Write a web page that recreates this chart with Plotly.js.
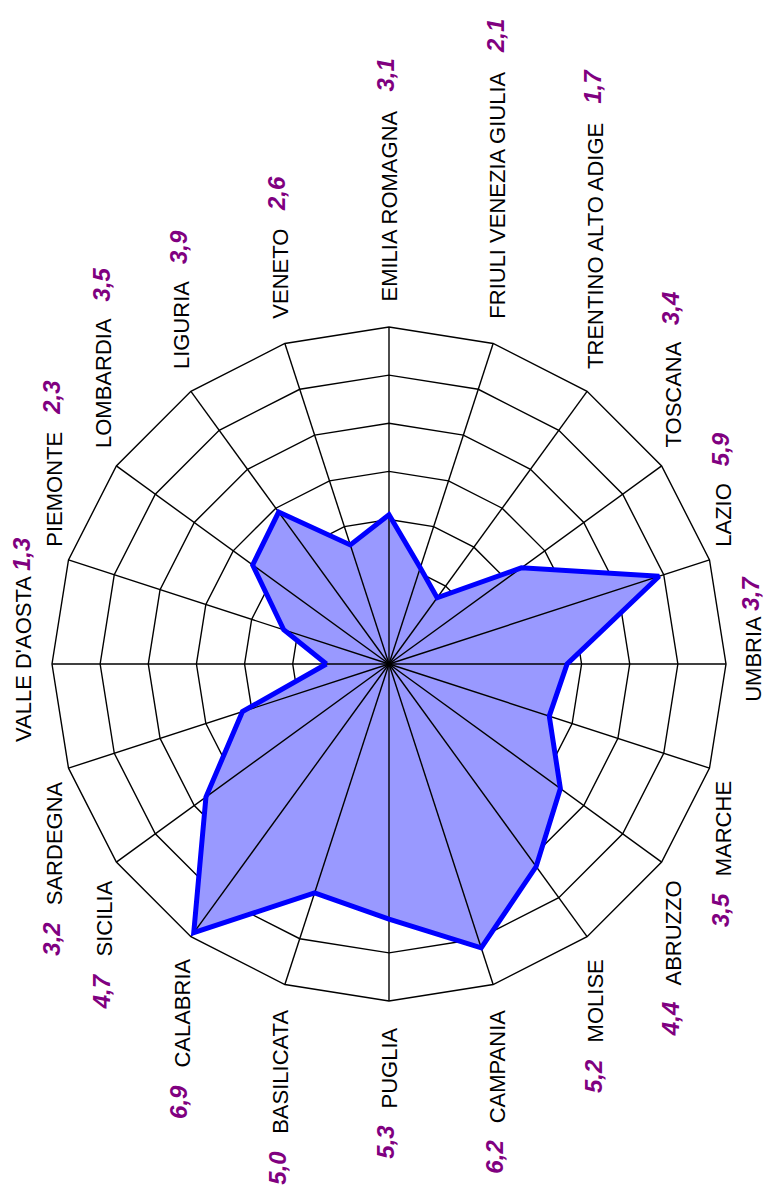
<!DOCTYPE html>
<html>
<head>
<meta charset="utf-8">
<script src="https://cdn.plot.ly/plotly-3.0.1.min.js"></script>
<style>
html,body{margin:0;padding:0;background:#ffffff;}
#chart{width:769px;height:1204px;}
</style>
</head>
<body>
<div id="chart"></div>
<script>
// ---------------- data ----------------
const categories = [
  "VALLE D'AOSTA", "PIEMONTE", "LOMBARDIA", "LIGURIA", "VENETO",
  "EMILIA ROMAGNA", "FRIULI VENEZIA GIULIA", "TRENTINO ALTO ADIGE", "TOSCANA", "LAZIO",
  "UMBRIA", "MARCHE", "ABRUZZO", "MOLISE", "CAMPANIA",
  "PUGLIA", "BASILICATA", "CALABRIA", "SICILIA", "SARDEGNA"
];
const values = [
  1.3, 2.3, 3.5, 3.9, 2.6,
  3.1, 2.1, 1.7, 3.4, 5.9,
  3.7, 3.5, 4.4, 5.2, 6.2,
  5.3, 5.0, 6.9, 4.7, 3.2
];
const valueLabels = [
  "1,3", "2,3", "3,5", "3,9", "2,6",
  "3,1", "2,1", "1,7", "3,4", "5,9",
  "3,7", "3,5", "4,4", "5,2", "6,2",
  "5,3", "5,0", "6,9", "4,7", "3,2"
];
const radialMax = 7;

// ---------------- layout geometry ----------------
const W = 769, H = 1204;
const CX = 389, CY = 664, R = 337;
const NAME_SIZE = 22, VALUE_SIZE = 24;
const FAMILY = '"Liberation Sans", Arial, Helvetica, sans-serif';

const cv = document.createElement('canvas');
const ctx = cv.getContext('2d');
function textLen(t, size, weight, style) {
  ctx.font = (style || 'normal') + ' ' + (weight || 'normal') + ' ' + size + 'px "Liberation Sans", Arial, sans-serif';
  return ctx.measureText(t).width;
}

const closedCats = categories.concat([categories[0]]);
const closedVals = values.concat([values[0]]);

const spokeR = [], spokeT = [];
categories.forEach(function (c) { spokeR.push(0, radialMax, null); spokeT.push(c, c, c); });

const traces = [
  { type: 'scatterpolar', r: closedVals, theta: closedCats, mode: 'lines', fill: 'toself',
    fillcolor: '#9999ff', line: { width: 0, color: '#9999ff' }, hoverinfo: 'skip' },
  { type: 'scatterpolar', r: spokeR, theta: spokeT, mode: 'lines', connectgaps: false,
    line: { color: '#000000', width: 1.4 }, hoverinfo: 'skip' },
  { type: 'scatterpolar', r: closedVals, theta: closedCats, mode: 'lines',
    line: { color: '#0000ff', width: 5 } },
  { type: 'scatterpolar', r: [0], theta: [categories[0]], mode: 'markers',
    marker: { color: '#000000', size: 13 }, hoverinfo: 'skip' }
];

const annotations = [];
categories.forEach(function (cat, i) {
  const th = (180 - 18 * i) * Math.PI / 180;
  const c = Math.cos(th), s = Math.sin(th);
  const vx = CX + R * c, vy = CY - R * s;
  const L = textLen(cat, NAME_SIZE);
  let nx, nNear, nFar, vNear, up;
  if (Math.abs(s) < 0.1) {
    nx = vx + 28 * Math.sign(c);
    const ncy = vy - 4;
    up = true;
    nNear = ncy + L / 2;
    nFar = ncy - L / 2;
    vNear = nFar - 5;
  } else {
    nx = vx + 15 * c;
    up = s > 0;
    const g = 6 + 19 * Math.abs(s);
    nNear = up ? vy - g : vy + g;
    nFar = up ? nNear - L : nNear + L;
    vNear = up ? nFar - 17 : nFar + 17;
  }
  annotations.push({
    xref: 'paper', yref: 'paper', x: nx / W, y: 1 - nNear / H,
    xanchor: 'center', yanchor: up ? 'bottom' : 'top',
    text: cat, showarrow: false, textangle: -90, borderpad: 0,
    font: { family: FAMILY, size: NAME_SIZE, color: '#000000' }
  });
  annotations.push({
    xref: 'paper', yref: 'paper', x: (nx - 3) / W, y: 1 - vNear / H,
    xanchor: 'center', yanchor: up ? 'bottom' : 'top',
    text: valueLabels[i], showarrow: false, textangle: -90, borderpad: 0,
    font: { family: FAMILY, size: VALUE_SIZE, color: '#800080', weight: 'bold', style: 'italic' }
  });
});

const layout = {
  width: W, height: H,
  margin: { l: 0, r: 0, t: 0, b: 0 },
  paper_bgcolor: '#ffffff',
  showlegend: false,
  polar: {
    domain: { x: [(CX - R) / W, (CX + R) / W], y: [(H - CY - R) / H, (H - CY + R) / H] },
    bgcolor: '#ffffff',
    gridshape: 'linear',
    radialaxis: { range: [0, radialMax], dtick: 1, showticklabels: false, ticks: '',
      showline: false, gridcolor: '#000000', gridwidth: 1.4 },
    angularaxis: { type: 'category', categoryarray: categories, rotation: 180, direction: 'clockwise',
      showticklabels: false, ticks: '', showgrid: false, showline: true,
      linecolor: '#000000', linewidth: 1.4 }
  },
  annotations: annotations
};

Plotly.newPlot('chart', traces, layout, { staticPlot: true, displayModeBar: false });
</script>
</body>
</html>
